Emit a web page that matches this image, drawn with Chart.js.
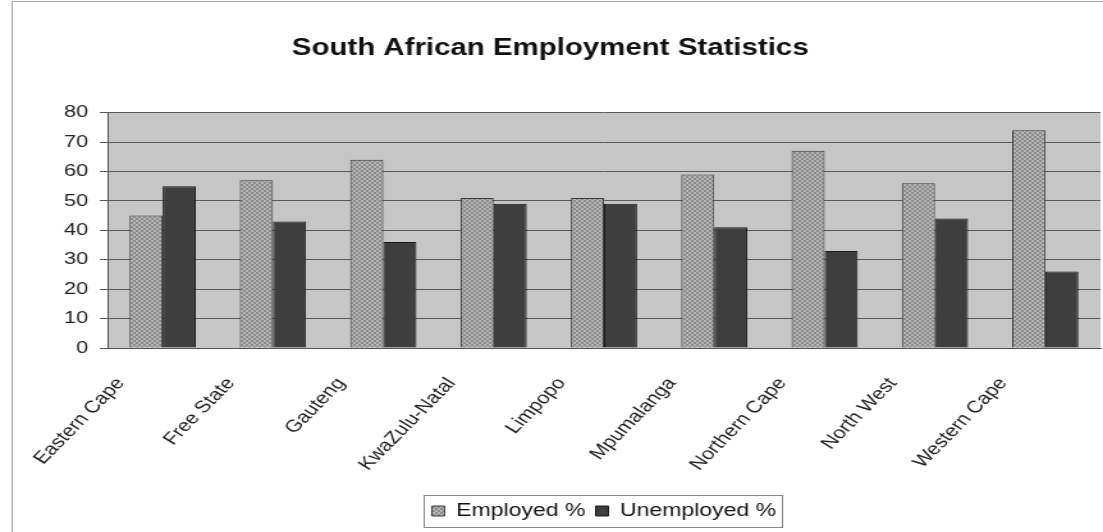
<!DOCTYPE html>
<html>
<head>
<meta charset="utf-8">
<script src="https://cdn.jsdelivr.net/npm/chart.js@4.4.1/dist/chart.umd.min.js"></script>
<style>
  body { margin: 0; background: #fff; overflow: hidden; }
  /* the original picture is stretched sideways, so draw narrow and widen it */
  #wrap { width: 862px; height: 532px; position: relative; transform: scaleX(1.2796); transform-origin: 0 0; }
</style>
</head>
<body>
<div id="wrap"><canvas id="empChart"></canvas></div>
<script>
const provinces = ['Eastern Cape', 'Free State', 'Gauteng', 'KwaZulu-Natal', 'Limpopo',
  'Mpumalanga', 'Northern Cape', 'North West', 'Western Cape'];
const employed = [45, 57, 64, 51, 51, 59, 67, 56, 74];
const unemployed = [55, 43, 36, 49, 49, 41, 33, 44, 26];
const yTicks = [0, 10, 20, 30, 40, 50, 60, 70, 80];

// checker-ish fill for the employed bars
function makePattern() {
  const c = document.createElement('canvas');
  c.width = 4; c.height = 4;
  const g = c.getContext('2d');
  g.fillStyle = '#b4b4b4';
  g.fillRect(0, 0, 4, 4);
  g.fillStyle = '#8c8c8c';
  g.fillRect(0, 0, 2, 2);
  g.fillRect(2, 2, 2, 2);
  return g.createPattern(c, 'repeat');
}
const empFill = makePattern();

// gray plot background + outer frame + legend box
const framePlugin = {
  id: 'frame',
  beforeDraw(chart) {
    const { ctx, chartArea: a } = chart;
    ctx.save();
    ctx.fillStyle = '#c6c6c6';
    ctx.fillRect(a.left, a.top, a.right - a.left, a.bottom - a.top);
    ctx.strokeStyle = '#a0a0a0';
    ctx.lineWidth = 1;
    ctx.beginPath();
    ctx.moveTo(9.5, 532);
    ctx.lineTo(9.5, 1.5);
    ctx.lineTo(862, 1.5);
    ctx.stroke();
    ctx.restore();
  },
  afterDraw(chart) {
    const lg = chart.legend;
    if (!lg || !lg.legendHitBoxes.length) return;
    const boxes = lg.legendHitBoxes;
    const left = boxes[0].left - 6;
    const last = boxes[boxes.length - 1];
    const right = last.left + last.width + 5;
    const top = boxes[0].top - 7;
    const h = boxes[0].height + 14;
    const ctx = chart.ctx;
    ctx.save();
    ctx.strokeStyle = '#888';
    ctx.lineWidth = 1;
    ctx.strokeRect(Math.round(left) + 0.5, Math.round(top) + 0.5, Math.round(right - left), Math.round(h));
    ctx.restore();
  }
};

const ctx = document.getElementById('empChart').getContext('2d');
const empChart = new Chart(ctx, {
  type: 'bar',
  data: {
    labels: provinces,
    datasets: [{
      label: 'Employed %',
      data: employed,
      backgroundColor: empFill,
      borderColor: '#3c3c3c',
      borderWidth: 1,
      categoryPercentage: 0.6,
      barPercentage: 1.0
    }, {
      label: 'Unemployed %',
      data: unemployed,
      backgroundColor: '#3e3e3e',
      borderColor: '#1a1a1a',
      borderWidth: 1,
      categoryPercentage: 0.6,
      barPercentage: 1.0
    }]
  },
  options: {
    responsive: true,
    maintainAspectRatio: false,
    animation: false,
    layout: { padding: { left: 0, right: 2, top: 0, bottom: 2 } },
    plugins: {
      title: {
        display: true,
        text: 'South African Employment Statistics',
        color: '#111',
        font: { family: 'Liberation Sans', size: 23, weight: 'bold' },
        padding: { top: 35, bottom: 50 }
      },
      legend: {
        position: 'bottom',
        fullSize: false,
        labels: {
          color: '#111',
          font: { family: 'Liberation Sans', size: 18 },
          boxWidth: 10,
          boxHeight: 10,
          padding: 8
        }
      },
      tooltip: { enabled: false }
    },
    scales: {
      x: {
        grid: { display: false, drawTicks: false },
        border: { color: '#555', width: 1 },
        ticks: {
          color: '#222',
          font: { family: 'Liberation Sans', size: 17 },
          minRotation: 52,
          maxRotation: 52,
          padding: 26,
          labelOffset: -33
        },
        afterFit(scale) { scale.height = 146; }
      },
      y: {
        min: 0,
        max: 80,
        afterBuildTicks(scale) { scale.ticks = yTicks.map(v => ({ value: v })); },
        grid: { color: '#5a5a5a', lineWidth: 1, tickLength: 6 },
        border: { color: '#555', width: 1 },
        ticks: {
          color: '#222',
          font: { family: 'Liberation Sans', size: 17 },
          padding: 9
        },
        afterFit(scale) { scale.width = 84; }
      }
    }
  },
  plugins: [framePlugin]
});
</script>
</body>
</html>
